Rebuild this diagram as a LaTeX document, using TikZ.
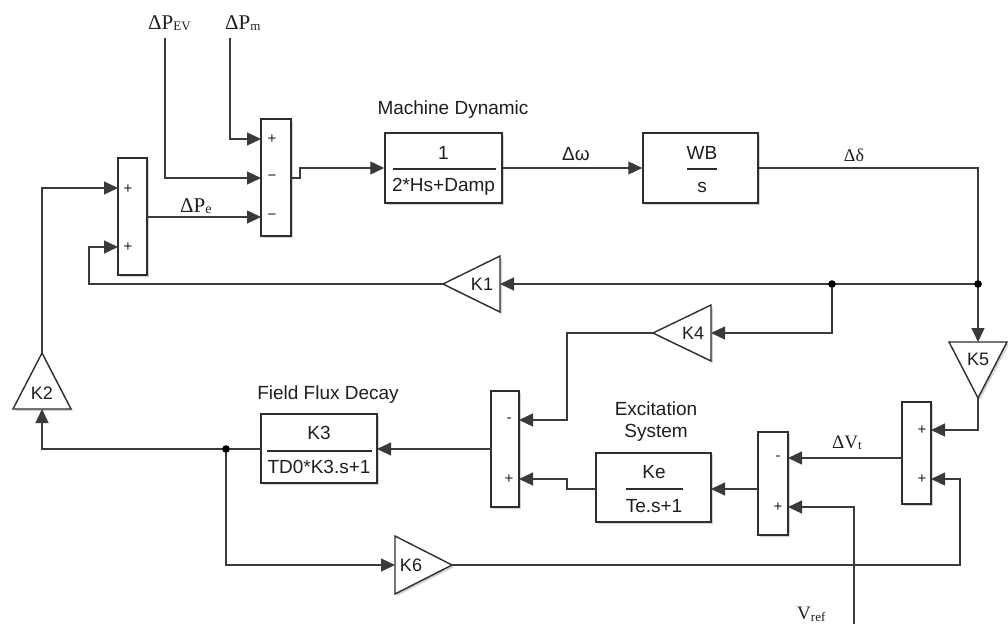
\documentclass[tikz,border=0pt]{standalone}
\usepackage{fontspec}
\setmainfont{Liberation Sans}
\newfontfamily\tmsfont{Liberation Serif}
\usetikzlibrary{arrows.meta,shadows}
\definecolor{wirec}{HTML}{3A3A3A}
\definecolor{boxc}{HTML}{2E2E2E}
\definecolor{txtc}{HTML}{1E1E1E}
\begin{document}
\begin{tikzpicture}[x=1pt,y=-1pt,
  wire/.style={draw=wirec, line width=1.2pt},
  arr/.style={wire, -{Triangle[length=14pt,width=13pt]}},
  shad/.style={drop shadow={shadow xshift=2pt,shadow yshift=-2pt,opacity=0.35}},
  blk/.style={draw=boxc, line width=1.5pt, fill=white, inner sep=0pt, shad},
  tri/.style={draw=boxc, line width=1.4pt, fill=white, line join=miter, shad},
  big/.style={text=txtc, font=\fontsize{19}{22}\selectfont, inner sep=0pt},
  gain/.style={text=txtc, font=\fontsize{18}{20}\selectfont, inner sep=0pt},
  sgn/.style={text=txtc, font=\fontsize{15}{15}\selectfont, inner sep=0pt},
  bar/.style={draw=boxc, line width=1.1pt},
  serif/.style={text=txtc, inner sep=0pt, font=\tmsfont},
  dot/.style={fill=black}
]
\useasboundingbox (0,0) rectangle (1008,624);

% ---------- summing blocks ----------
\node[blk, minimum width=29pt, minimum height=117pt] (S1) at (132.5,216.5) {};
\node[blk, minimum width=30pt, minimum height=117pt] (S2) at (276,177.5) {};
\node[blk, minimum width=28pt, minimum height=116pt] (S3) at (505,449) {};
\node[blk, minimum width=30pt, minimum height=103pt] (S4) at (773,483.5) {};
\node[blk, minimum width=29pt, minimum height=102pt] (S5) at (916.5,453) {};

\node[sgn] (s1a) at (128,189) {+};
\node[sgn] (s1b) at (128,247) {+};
\node[sgn] (s2a) at (272,139) {+};
\node[sgn] (s2b) at (272,178) {−};
\node[sgn] (s2c) at (272,217) {−};
\node[sgn] (s3a) at (509,420) {-};
\node[sgn] (s3b) at (509,479) {+};
\node[sgn] (s4a) at (778,458) {-};
\node[sgn] (s4b) at (778,507) {+};
\node[sgn] (s5a) at (922,430) {+};
\node[sgn] (s5b) at (922,479) {+};

% ---------- transfer function blocks ----------
\node[blk, minimum width=117pt, minimum height=70pt] (MD) at (443.5,168) {};
\node[big] (MDn) at (443.5,153) {1};
\draw[bar] (393,169) -- (496,169);
\node[big] (MDd) at (443.5,187) {2*Hs+Damp};
\node[big] (MDl) at (453,110) {Machine Dynamic};

\node[blk, minimum width=115pt, minimum height=70pt] (WB) at (700.5,168) {};
\node[big] (WBn) at (702,153) {WB};
\draw[bar] (687,169) -- (717,169);
\node[big] (WBd) at (702,187) {s};

\node[blk, minimum width=116pt, minimum height=69pt] (FF) at (319,448.5) {};
\node[big] (FFn) at (319,433) {K3};
\draw[bar] (267,451) -- (372,451);
\node[big] (FFd) at (319,467) {TD0*K3.s+1};
\node[big] (FFl) at (328,395) {Field Flux Decay};

\node[blk, minimum width=115pt, minimum height=69pt] (KE) at (653.5,487.5) {};
\node[big] (KEn) at (654,472) {Ke};
\draw[bar] (626,489) -- (683,489);
\node[big] (KEd) at (654,506) {Te.s+1};
\node[big] (KEl1) at (656,409) {Excitation};
\node[big] (KEl2) at (656,433) {System};

% ---------- gains (triangles) ----------
\draw[tri] (443,284) -- (500,256) -- (500,312) -- cycle;
\node[gain] (K1) at (482,284) {K1};
\coordinate (K1in) at (500,284); \coordinate (K1out) at (443,284);

\draw[tri] (653,333) -- (711,305) -- (711,361) -- cycle;
\node[gain] (K4) at (693,333) {K4};
\coordinate (K4in) at (711,333); \coordinate (K4out) at (653,333);

\draw[tri] (42,353) -- (71,409) -- (13,409) -- cycle;
\node[gain] (K2) at (42,393) {K2};
\coordinate (K2in) at (42,409); \coordinate (K2out) at (42,353);

\draw[tri] (949,342) -- (1007,342) -- (978,398) -- cycle;
\node[gain] (K5) at (978,359) {K5};
\coordinate (K5in) at (978,342); \coordinate (K5out) at (978,398);

\draw[tri] (395,536) -- (452,565) -- (395,594) -- cycle;
\node[gain] (K6) at (411,565) {K6};
\coordinate (K6in) at (395,565); \coordinate (K6out) at (452,565);

% ---------- external labels ----------
\node[serif, anchor=base west] (PEV) at (148,29)
  {\fontsize{21}{21}\selectfont ΔP\raisebox{-1pt}{\fontsize{13}{13}\selectfont EV}};
\node[serif, anchor=base west] (PM) at (225,29)
  {\fontsize{21}{21}\selectfont ΔP\raisebox{-1pt}{\fontsize{13}{13}\selectfont m}};
\node[serif, anchor=base west] (PE) at (180,212)
  {\fontsize{21}{21}\selectfont ΔP\raisebox{-1.5pt}{\fontsize{14}{14}\selectfont e}};
\node[big] (DW) at (576,154) {Δω};
\node[serif] (DD) at (854,155) {\fontsize{18}{18}\selectfont Δδ};
\node[serif, anchor=base west] (DV) at (832,448)
  {\fontsize{19}{19}\selectfont ΔV\raisebox{-1.5pt}{\fontsize{13}{13}\selectfont t}};
\node[serif, anchor=base west] (VR) at (797,619)
  {\fontsize{19}{19}\selectfont V\raisebox{-2pt}{\fontsize{13}{13}\selectfont ref}};

\coordinate (PEVtop) at (165,38);
\coordinate (PMtop) at (230,38);
\coordinate (VRbot) at (854,624);

% ---------- junction points ----------
\coordinate (J1) at (978,284);
\coordinate (J2) at (832,284);
\coordinate (J3) at (226,449);

% ---------- connectors ----------
\draw[arr] (PMtop) |- (261,139);
\draw[arr] (PEVtop) |- (261,178);
\draw[arr] (147,217) -- (261,217);
\draw[arr] (291,178) -- (300,178) -- (300,168) -- (MD.west);
\draw[arr] (MD.east) -- (WB.west);
\draw[wire] (WB.east) -| (J1);
\draw[arr] (J1) -- (K5in);
\draw[arr] (J1) -- (K1in);
\draw[arr] (K1out) -- (89,284) |- (118,247);
\draw[arr] (J2) |- (K4in);
\draw[arr] (K4out) -- (567,333) |- (519,420);
\draw[arr] (K5out) |- (931,430);
\draw[arr] (902,458) -- (788,458);
\draw[arr] (758,489) -- (711,489);
\draw[arr] (596,489) -- (567,489) -- (567,479) -- (519,479);
\draw[arr] (491,449) -- (377,449);
\draw[wire] (261,449) -- (J3);
\draw[arr] (J3) -| (K2in);
\draw[arr] (K2out) |- (118,188);
\draw[arr] (J3) |- (K6in);
\draw[arr] (K6out) -| (960,479) -- (931,479);
\draw[arr] (VRbot) |- (788,507);

\fill[dot] (J1) circle (3.8pt);
\fill[dot] (J2) circle (3.8pt);
\fill[dot] (J3) circle (3.8pt);
\end{tikzpicture}
\end{document}
